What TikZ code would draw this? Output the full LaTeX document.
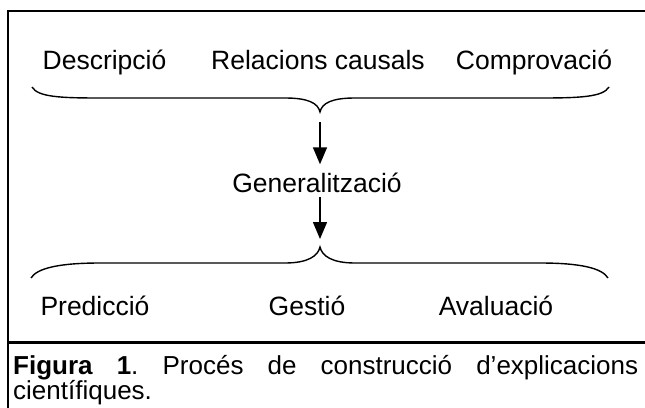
\documentclass[tikz,border=0pt]{standalone}
\usepackage{fontspec}
\setmainfont{Liberation Sans}
\usetikzlibrary{arrows.meta}
\begin{document}
\begin{tikzpicture}[x=1pt,y=-1pt,
  lbl/.style={font=\fontsize{26.5}{30}\selectfont, inner sep=0pt, anchor=base},
  bracel/.style={line width=1.4pt},
  arr/.style={line width=1.5pt, -{Triangle[length=17pt,width=14pt]}},
  framel/.style={line width=2pt},
  capt/.style={anchor=base west, inner sep=0pt, text width=625pt, align=justify,
    font=\fontsize{26}{25.5}\selectfont\frenchspacing}]
\useasboundingbox (0,0) rectangle (645,407);
% frame of the table cell
\draw[framel] (8,420) -- (8,11) -- (660,11);
\draw[line width=3pt] (7,342) -- (660,342);
% labels
\node[lbl] (desc) at (104.5,69) {Descripció};
\node[lbl] (rel) at (318,69) {Relacions causals};
\node[lbl] (comp) at (534,69) {Comprovació};
\node[lbl] (gen) at (317,192) {Generalització};
\node[lbl] (pred) at (95,315) {Predicció};
\node[lbl] (gest) at (307,315) {Gestió};
\node[lbl] (aval) at (496,315) {Avaluació};
% braces
\coordinate (ttip) at (320,112);
\coordinate (btip) at (320,247);
\draw[bracel] (32,87) .. controls (38,97) and (60,98) .. (100,98) -- (285,98)
  .. controls (308,98) and (318,103) .. (ttip)
  .. controls (322,103) and (332,98) .. (355,98) -- (540,98)
  .. controls (580,98) and (603,97) .. (609,87);
\draw[bracel] (31,278) .. controls (37,268) and (60,263) .. (100,263) -- (285,263)
  .. controls (308,263) and (318,256) .. (btip)
  .. controls (322,256) and (332,263) .. (355,263) -- (540,263)
  .. controls (580,263) and (602,268) .. (608,278);
% arrows
\draw[arr, shorten >=8pt] ([yshift=-10pt]ttip) -- (gen.north -| ttip);
\draw[arr, shorten <=5pt, shorten >=8pt] (gen.base -| btip) -- (btip);
% caption
\node[capt] (cap) at (13,374) {\textbf{Figura 1}. Procés de construcció d’explicacions\linebreak científiques.};
\end{tikzpicture}
\end{document}
